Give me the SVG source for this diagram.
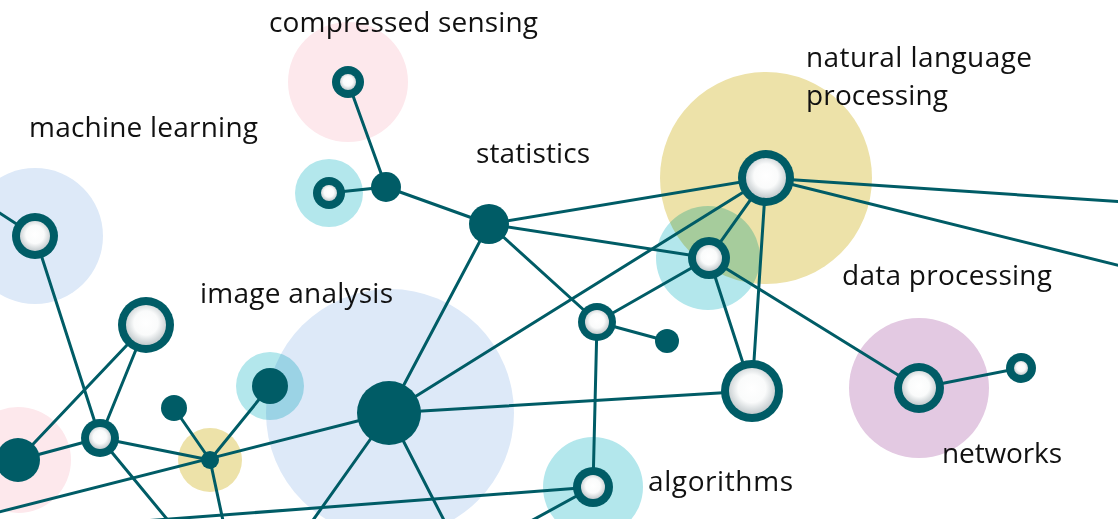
<svg xmlns="http://www.w3.org/2000/svg" width="1118" height="519" viewBox="0 0 1118 519">
<defs>
<radialGradient id="inner" cx="50%" cy="45%" r="55%">
<stop offset="0" stop-color="#ffffff"/>
<stop offset="0.55" stop-color="#fafbfb"/>
<stop offset="1" stop-color="#c3cacd"/>
</radialGradient>
<style>
.halo{mix-blend-mode:multiply}
.blue{fill:#dde9f8}.pink{fill:#fde8ec}.cyan{fill:#b3e7ec}.yellow{fill:#ede2a9}.purple{fill:#e3c9e2}
.edge{stroke:#005c66;stroke-width:3;fill:none;stroke-linecap:round}
.ring{fill:#005c66}
.hole{fill:url(#inner)}
.dot{fill:#005c66}
.label{font-family:"Open Sans","Noto Sans",sans-serif;font-size:28px;fill:#111111}
</style>
</defs>
<rect width="1118" height="519" fill="#ffffff"/>
<g id="halos">
<circle class="halo blue" cx="35" cy="236" r="68"/>
<circle class="halo pink" cx="348" cy="82" r="60"/>
<circle class="halo cyan" cx="329" cy="193" r="34"/>
<circle class="halo pink" cx="18" cy="460" r="53"/>
<circle class="halo yellow" cx="210" cy="460" r="32"/>
<circle class="halo blue" cx="390" cy="413" r="124"/>
<circle class="halo cyan" cx="270" cy="386" r="34"/>
<circle class="halo cyan" cx="708" cy="258" r="52"/>
<circle class="halo yellow" cx="766" cy="178" r="106"/>
<circle class="halo purple" cx="919" cy="388" r="70"/>
<circle class="halo cyan" cx="593" cy="487" r="50"/>
</g>
<g id="connectors">
<line class="edge" x1="-5" y1="210" x2="35" y2="236"/>
<line class="edge" x1="35" y1="236" x2="100" y2="438"/>
<line class="edge" x1="146" y1="325" x2="100" y2="438"/>
<line class="edge" x1="146" y1="325" x2="18" y2="460"/>
<line class="edge" x1="18" y1="460" x2="100" y2="438"/>
<line class="edge" x1="100" y1="438" x2="176" y2="530"/>
<line class="edge" x1="100" y1="438" x2="210" y2="460"/>
<line class="edge" x1="174" y1="408" x2="210" y2="460"/>
<line class="edge" x1="270" y1="386" x2="210" y2="460"/>
<line class="edge" x1="210" y1="460" x2="225" y2="530"/>
<line class="edge" x1="-5" y1="513" x2="389" y2="413"/>
<line class="edge" x1="130" y1="522" x2="593" y2="487"/>
<line class="edge" x1="389" y1="413" x2="489" y2="224"/>
<line class="edge" x1="389" y1="413" x2="766" y2="178"/>
<line class="edge" x1="389" y1="413" x2="752" y2="391"/>
<line class="edge" x1="389" y1="413" x2="306" y2="530"/>
<line class="edge" x1="389" y1="413" x2="449" y2="530"/>
<line class="edge" x1="489" y1="224" x2="386" y2="187"/>
<line class="edge" x1="386" y1="187" x2="329" y2="193"/>
<line class="edge" x1="386" y1="187" x2="348" y2="82"/>
<line class="edge" x1="489" y1="224" x2="766" y2="178"/>
<line class="edge" x1="489" y1="224" x2="709" y2="258"/>
<line class="edge" x1="489" y1="224" x2="597" y2="322"/>
<line class="edge" x1="597" y1="322" x2="709" y2="258"/>
<line class="edge" x1="597" y1="322" x2="667" y2="341"/>
<line class="edge" x1="597" y1="322" x2="593" y2="487"/>
<line class="edge" x1="709" y1="258" x2="766" y2="178"/>
<line class="edge" x1="709" y1="258" x2="752" y2="391"/>
<line class="edge" x1="766" y1="178" x2="752" y2="391"/>
<line class="edge" x1="709" y1="258" x2="919" y2="388"/>
<line class="edge" x1="766" y1="178" x2="1125" y2="202"/>
<line class="edge" x1="766" y1="178" x2="1125" y2="267"/>
<line class="edge" x1="919" y1="388" x2="1021" y2="368"/>
<line class="edge" x1="593" y1="487" x2="520" y2="527"/>
</g>
<g id="machine-learning">
<circle class="ring" cx="35" cy="236" r="23"/><circle class="hole" cx="35" cy="236" r="15"/>
<text class="label" x="29" y="137" textLength="229" lengthAdjust="spacing">machine learning</text>
</g>
<g id="compressed-sensing">
<circle class="ring" cx="348" cy="82" r="16"/><circle class="hole" cx="348" cy="82" r="8"/>
<text class="label" x="269" y="32" textLength="269" lengthAdjust="spacing">compressed sensing</text>
</g>
<g id="node-k">
<circle class="ring" cx="329" cy="193" r="16"/><circle class="hole" cx="329" cy="193" r="8"/>
</g>
<g id="node-j">
<circle class="dot" cx="386" cy="187" r="15"/>
</g>
<g id="statistics">
<circle class="dot" cx="489" cy="224" r="20"/>
<text class="label" x="476" y="163" textLength="114" lengthAdjust="spacing">statistics</text>
</g>
<g id="natural-language-processing">
<circle class="ring" cx="766" cy="178" r="28"/><circle class="hole" cx="766" cy="178" r="20"/>
<text class="label" x="806" y="67" textLength="226" lengthAdjust="spacing">natural language</text>
<text class="label" x="806" y="105" textLength="142" lengthAdjust="spacing">processing</text>
</g>
<g id="node-o">
<circle class="ring" cx="709" cy="258" r="21"/><circle class="hole" cx="709" cy="258" r="13"/>
</g>
<g id="node-m">
<circle class="ring" cx="597" cy="322" r="19"/><circle class="hole" cx="597" cy="322" r="12"/>
</g>
<g id="node-n">
<circle class="dot" cx="667" cy="341" r="12"/>
</g>
<g id="node-q">
<circle class="ring" cx="752" cy="391" r="31"/><circle class="hole" cx="752" cy="391" r="23"/>
</g>
<g id="data-processing">
<text class="label" x="842" y="285" textLength="210" lengthAdjust="spacing">data processing</text>
</g>
<g id="networks">
<circle class="ring" cx="919" cy="388" r="25"/><circle class="hole" cx="919" cy="388" r="17"/>
<text class="label" x="942" y="463" textLength="120" lengthAdjust="spacing">networks</text>
</g>
<g id="node-s">
<circle class="ring" cx="1021" cy="368" r="15"/><circle class="hole" cx="1021" cy="368" r="7"/>
</g>
<g id="algorithms">
<circle class="ring" cx="593" cy="487" r="20"/><circle class="hole" cx="593" cy="487" r="12"/>
<text class="label" x="648" y="491" textLength="145" lengthAdjust="spacing">algorithms</text>
</g>
<g id="image-analysis">
<circle class="dot" cx="389" cy="413" r="32"/>
<text class="label" x="200" y="303" textLength="193" lengthAdjust="spacing">image analysis</text>
</g>
<g id="node-g">
<circle class="dot" cx="270" cy="386" r="18"/>
</g>
<g id="node-b">
<circle class="ring" cx="146" cy="325" r="28"/><circle class="hole" cx="146" cy="325" r="20"/>
</g>
<g id="node-c">
<circle class="ring" cx="100" cy="438" r="19"/><circle class="hole" cx="100" cy="438" r="11"/>
</g>
<g id="node-d">
<circle class="dot" cx="18" cy="460" r="22"/>
</g>
<g id="node-e">
<circle class="dot" cx="174" cy="408" r="13"/>
</g>
<g id="node-f">
<circle class="dot" cx="210" cy="460" r="9"/>
</g>
</svg>
